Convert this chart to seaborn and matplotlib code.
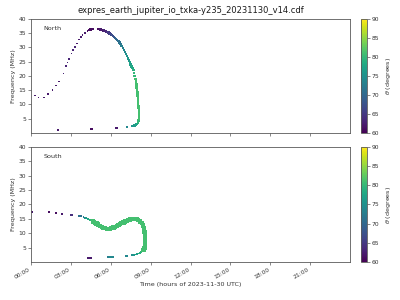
import matplotlib
matplotlib.use("Agg")
import matplotlib.pyplot as plt
import seaborn as sns
import pandas as pd
from matplotlib.colors import Normalize
from matplotlib.cm import ScalarMappable

# ---------------- data ----------------
title = "expres_earth_jupiter_io_txka-y235_20231130_v14.cdf"
xtick_pos = [0, 3, 6, 9, 12, 15, 18, 21]
xtick_labels = ["00:00", "03:00", "06:00", "09:00", "12:00", "15:00", "18:00", "21:00"]
ytick_pos = [5, 10, 15, 20, 25, 30, 35, 40]
cbar_ticks = [60, 65, 70, 75, 80, 85, 90]

# North: sparse dots (time h, freq MHz, theta deg)
north_dot_time = [0.30, 0.55, 1.00, 1.30, 1.63, 1.88, 2.10, 2.43, 2.63, 2.76, 2.88,
                  3.06, 3.18, 3.31, 3.44, 3.61, 3.76, 3.89, 4.06, 4.24,
                  2.05, 4.50, 4.62, 6.40, 6.48, 7.18, 7.26]
north_dot_freq = [13.1, 12.4, 12.4, 13.6, 15.1, 16.6, 18.0, 20.9, 23.4, 24.7, 25.9,
                  27.8, 29.0, 30.2, 31.3, 32.7, 33.7, 34.3, 35.1, 35.8,
                  1.05, 1.4, 1.4, 1.65, 1.65, 2.0, 2.0]
north_dot_theta = [62, 62, 62, 62, 62, 62, 62, 63, 63, 63, 63,
                   63, 63, 63, 62, 62, 62, 62, 62, 61,
                   62, 61, 61, 62, 62, 74, 74]

# North: dense arc
north_arc_time = [4.40, 4.48, 4.56, 4.64, 5.06, 5.15, 5.24, 5.32, 5.40, 5.48, 5.57,
                  5.65, 5.73, 5.82, 5.90, 5.98, 6.07, 6.15, 6.23, 6.32, 6.40, 6.48,
                  6.57, 6.65, 6.73, 6.82, 6.90, 6.98, 7.07, 7.15, 7.23, 7.32, 7.38,
                  7.44, 7.50, 7.57, 7.63, 7.70, 7.75, 7.80, 7.85, 7.90, 7.93, 7.95,
                  7.97, 7.98, 8.00, 8.01, 8.02, 8.03, 8.04, 8.05, 8.06, 8.07, 8.08,
                  8.10, 8.11, 8.12, 8.13, 8.13, 8.13, 8.13, 8.12, 8.10, 8.08, 8.03,
                  7.95, 7.88, 7.80, 7.70, 7.62]
north_arc_freq = [36.2, 36.3, 36.4, 36.5, 36.5, 36.4, 36.3, 36.2, 36.0, 35.9, 35.8,
                  35.6, 35.4, 35.2, 34.9, 34.6, 34.3, 34.0, 33.7, 33.3, 33.0, 32.6,
                  32.2, 31.7, 31.1, 30.5, 29.8, 29.1, 28.4, 27.7, 26.9, 26.1, 25.4,
                  24.7, 24.0, 23.3, 22.7, 22.0, 21.0, 20.0, 19.0, 18.0, 17.0, 16.0,
                  15.5, 15.0, 14.2, 13.6, 13.0, 12.4, 11.8, 11.2, 10.6, 10.0, 9.4,
                  8.8, 8.2, 7.6, 7.0, 6.4, 5.8, 5.3, 4.8, 4.4, 4.1, 3.6,
                  3.1, 2.8, 2.6, 2.45, 2.4]
north_arc_theta = [61, 61, 61, 61, 61, 61, 62, 62, 62, 63, 63,
                   63, 64, 65, 65, 66, 67, 67, 68, 69, 70, 70,
                   71, 71, 72, 73, 73, 74, 74, 75, 75, 76, 76,
                   77, 77, 78, 78, 79, 80, 80, 81, 81, 81, 81,
                   81, 81, 81, 81, 81, 81, 81, 81, 81, 81, 81,
                   81, 81, 81, 81, 81, 81, 81, 81, 81, 80, 80,
                   78, 77, 77, 76, 76]

# South: thin dots/dashes
south_dot_time = [0.02, 0.08, 1.38, 1.86, 2.36, 2.98, 3.08, 3.62, 3.70, 3.78,
                  3.95, 4.06, 4.15, 4.23, 4.31, 4.40, 4.48, 4.56,
                  8.40, 8.30, 8.20, 8.08, 7.95, 7.86, 7.78, 7.68, 7.58,
                  7.15, 7.25, 5.75, 5.85, 5.95, 6.05, 6.15,
                  4.25, 4.35, 4.45, 4.55]
south_dot_freq = [17.4, 17.4, 17.3, 16.9, 16.6, 16.2, 16.2, 15.9, 15.9, 15.9,
                  15.6, 15.4, 15.2, 15.1, 15.0, 14.7, 14.5, 14.3,
                  3.8, 3.4, 3.1, 2.9, 2.7, 2.6, 2.5, 2.4, 2.3,
                  2.0, 2.0, 1.6, 1.6, 1.6, 1.6, 1.6,
                  1.4, 1.4, 1.4, 1.4]
south_dot_theta = [62, 62, 61, 61, 62, 64, 64, 71, 71, 71,
                   73, 75, 76, 77, 78, 79, 80, 81,
                   80, 80, 79, 78, 77, 77, 76, 76, 75,
                   74, 74, 73, 73, 74, 74, 74,
                   62, 62, 62, 62]

# South: broadband loop
south_band_time = [4.65, 4.73, 4.82, 4.94, 5.06, 5.19, 5.32, 5.44, 5.57, 5.70, 5.82,
                   5.94, 6.07, 6.20, 6.32, 6.45, 6.57, 6.70, 6.82, 6.95, 7.07,
                   7.20, 7.32, 7.45, 7.58, 7.70, 7.83, 7.95, 8.07, 8.20, 8.33,
                   8.42, 8.50, 8.55, 8.58, 8.59, 8.59, 8.58, 8.56, 8.53, 8.47]
south_band_freq = [14.0, 13.8, 13.6, 13.3, 13.0, 12.6, 12.2, 11.9, 11.7, 11.55, 11.5,
                   11.55, 11.7, 11.95, 12.2, 12.55, 12.9, 13.2, 13.5, 13.75, 14.0,
                   14.25, 14.5, 14.75, 14.95, 15.0, 15.0, 14.85, 14.6, 14.1, 13.5,
                   12.7, 11.7, 10.5, 9.4, 8.6, 7.8, 7.1, 6.0, 4.8, 4.2]
south_band_theta = [81] * len(south_band_time)

# ---------------- plot ----------------
sns.set_style("ticks")
plt.rcParams["font.family"] = ["DejaVu Sans"]
gray = "0.35"
tcol = "0.2"

fig = plt.figure(figsize=(4, 3), dpi=100)
ax1 = fig.add_axes([0.0775, 0.557, 0.7975, 0.38])
ax2 = fig.add_axes([0.0775, 0.127, 0.7975, 0.383])
cax1 = fig.add_axes([0.9025, 0.557, 0.015, 0.38])
cax2 = fig.add_axes([0.9025, 0.127, 0.015, 0.383])

norm = Normalize(60, 90)

def draw(ax, t, f, th, size):
    df = pd.DataFrame({"time": t, "freq": f, "theta": th})
    sns.scatterplot(data=df, x="time", y="freq", hue="theta", palette="viridis",
                    hue_norm=(60, 90), marker="s", s=size, linewidth=0,
                    legend=False, ax=ax)

draw(ax1, north_dot_time, north_dot_freq, north_dot_theta, 1.3)
draw(ax1, north_arc_time, north_arc_freq, north_arc_theta, 3)
draw(ax2, south_dot_time, south_dot_freq, south_dot_theta, 1.6)
draw(ax2, south_band_time, south_band_freq, south_band_theta, 10)

for ax, name in [(ax1, "North"), (ax2, "South")]:
    ax.set_xlim(0, 24)
    ax.set_ylim(0, 40)
    ax.set_xticks(xtick_pos)
    ax.set_yticks(ytick_pos)
    ax.set_ylabel("Frequency (MHz)", fontsize=4.6, color=tcol, labelpad=2)
    ax.tick_params(labelsize=4.3, length=2, width=0.5, pad=1.5, colors=gray,
                   labelcolor=tcol)
    for sp in ax.spines.values():
        sp.set_visible(True)
        sp.set_color(gray)
        sp.set_linewidth(0.6)
    ax.text(0.04, 0.92, name, transform=ax.transAxes, fontsize=4.6, color=tcol,
            va="center", ha="left")

ax1.set_xticklabels([])
ax1.set_xlabel("")
ax2.set_xticklabels(xtick_labels, rotation=30, ha="right")
ax2.set_xlabel("Time (hours of 2023-11-30 UTC)", fontsize=4.6, color=tcol, labelpad=2)
ax1.set_title(title, fontsize=6, color="0.1", pad=4)

for cax in (cax1, cax2):
    cb = fig.colorbar(ScalarMappable(norm=norm, cmap="viridis"), cax=cax)
    cb.set_ticks(cbar_ticks)
    cb.ax.tick_params(labelsize=4.3, length=2, width=0.5, pad=1.5, colors=gray,
                      labelcolor=tcol)
    cb.outline.set_edgecolor(gray)
    cb.outline.set_linewidth(0.6)
    cb.set_label(r"$\theta$ (degrees)", fontsize=4.6, color=tcol, labelpad=3)

fig.savefig("out.png", dpi=100)
